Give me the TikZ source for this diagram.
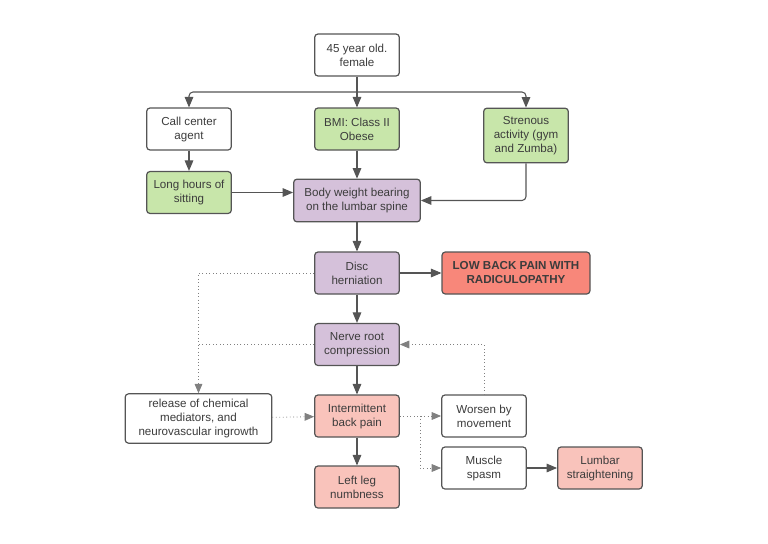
\documentclass[tikz,border=0pt]{standalone}
\usepackage{fontspec}
\setmainfont{Liberation Sans}
\usetikzlibrary{arrows}
\definecolor{boxgreen}{HTML}{C8E6AA}
\definecolor{boxpurple}{HTML}{D5C1DA}
\definecolor{boxred}{HTML}{F8877A}
\definecolor{boxpink}{HTML}{F9C3BB}
\definecolor{boxline}{HTML}{555555}
\definecolor{dotgray}{HTML}{808080}
\definecolor{textgray}{HTML}{3C3C3C}

\begin{document}
\begin{tikzpicture}[x=0.75pt,y=-0.75pt]
    \tikzset{box/.style = {shape=rectangle, draw=boxline, rounded corners=2.5pt, line width=0.9pt, fill=white, minimum width=63.5pt, minimum height=31.5pt, align=center, font=\fontsize{8.7}{10.5}\selectfont, text=textgray, inner sep=2pt}}
    \tikzset{edge/.style = {draw=boxline, line width=0.8pt, -triangle 45}}
    \tikzset{dots/.style = {draw=dotgray, dotted, line width=0.6pt, -triangle 45}}
    \useasboundingbox (0,0) rectangle (768,543);

    % vertices
    \node[box] (age) at (357,55) {45 year old.\\female};
    \node[box] (job) at (189,129) {Call center\\agent};
    \node[box,fill=boxgreen] (bmi) at (357,129) {BMI: Class II\\Obese};
    \node[box,fill=boxgreen,minimum height=41pt] (gym) at (526,135.5) {Strenous\\activity (gym\\and Zumba)};
    \node[box,fill=boxgreen] (sit) at (189,192.5) {Long hours of\\sitting};
    \node[box,fill=boxpurple,minimum width=95pt,minimum height=32pt] (load) at (357,200.5) {Body weight bearing\\on the lumbar spine};
    \node[box,fill=boxpurple] (disc) at (357,273) {Disc\\herniation};
    \node[box,fill=boxred,minimum width=111pt,font=\fontsize{8.7}{10.5}\selectfont\bfseries] (lbp) at (516,273) {LOW BACK PAIN WITH\\RADICULOPATHY};
    \node[box,fill=boxpurple] (nerve) at (357,344.5) {Nerve root\\compression};
    \node[box,minimum width=110pt,minimum height=37pt] (chem) at (198.5,418.5) {release of chemical\\mediators, and\\neurovascular ingrowth};
    \node[box,fill=boxpink] (pain) at (357,416) {Intermittent\\back pain};
    \node[box,fill=boxpink] (leg) at (357,487) {Left leg\\numbness};
    \node[box] (worse) at (484,416) {Worsen by\\movement};
    \node[box] (spasm) at (484,468) {Muscle\\spasm};
    \node[box,fill=boxpink] (flat) at (600,468) {Lumbar\\straightening};

    \coordinate (split) at (357,92);
    \coordinate (fork) at (420,416);

    % edges
    \draw[boxline,line width=0.8pt] (age) -- (split);
    \draw[edge,rounded corners=3pt] (split) -| (job);
    \draw[edge] (split) -- (bmi);
    \draw[edge,rounded corners=3pt] (split) -| (gym);
    \draw[edge] (job) -- (sit);
    \draw[edge] (bmi) -- (load);
    \draw[edge] (sit) -- (sit -| load.west);
    \draw[edge,rounded corners=3pt] (gym) |- (load);
    \draw[edge] (load) -- (disc);
    \draw[edge] (disc) -- (lbp);
    \draw[edge] (disc) -- (nerve);
    \draw[dots] (disc) -| (chem);
    \draw[dotgray,dotted,line width=0.6pt] (nerve) -- (chem |- nerve);
    \draw[edge] (nerve) -- (pain);
    \draw[dots] (worse) |- (nerve);
    \draw[dots] (chem) -- (pain);
    \draw[dots] (pain) -- (worse);
    \draw[dots] (fork) |- (spasm);
    \draw[edge] (pain) -- (leg);
    \draw[edge] (spasm) -- (flat);
\end{tikzpicture}
\end{document}
